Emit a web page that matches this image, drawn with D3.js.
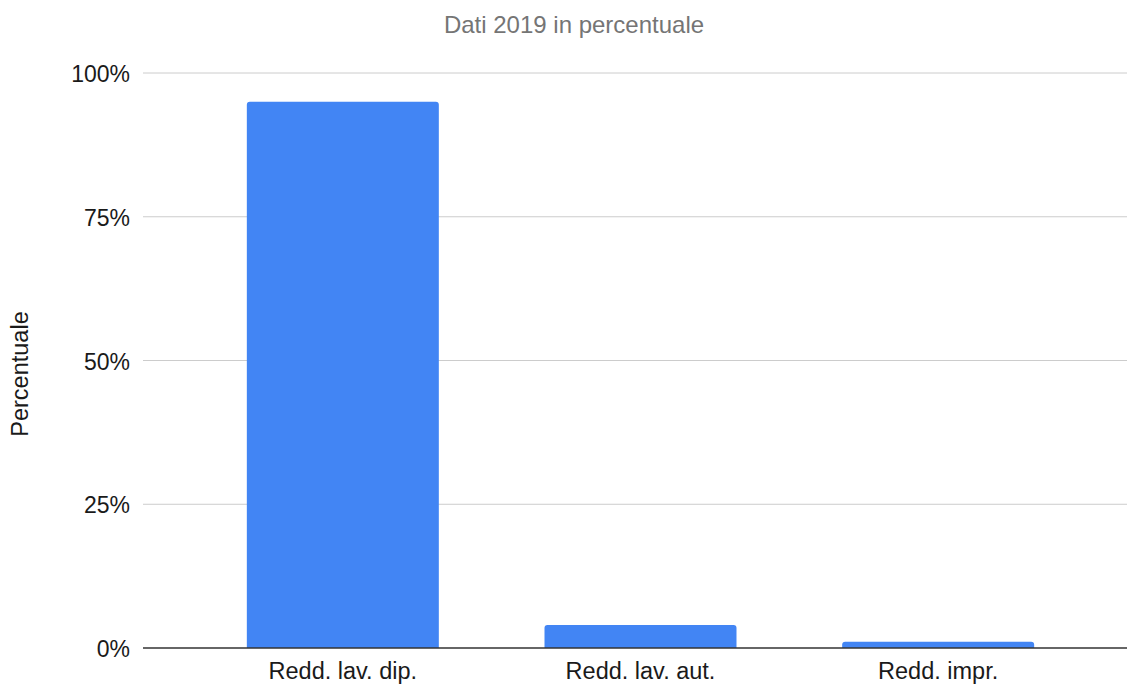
<!DOCTYPE html>
<html><head><meta charset="utf-8">
<script src="https://cdn.jsdelivr.net/npm/d3@7"></script>
<style>body{margin:0;background:#fff;} text{font-family:"Liberation Sans",Arial,sans-serif;}</style>
</head><body>
<svg id="c" width="1127" height="684"></svg>
<script>
const categories = ["Redd. lav. dip.", "Redd. lav. aut.", "Redd. impr."];
const values = [95, 4, 1.1];
const tickValues = [0, 25, 50, 75, 100];
const tickLabels = ["0%", "25%", "50%", "75%", "100%"];
const title = "Dati 2019 in percentuale";
const yTitle = "Percentuale";

(function () {
const svg = d3.select("#c");
const plotLeft = 143, plotRight = 1127, plotTop = 73, plotBottom = 648;

const x = d3.scaleBand().domain(categories).range([194, 1087]).paddingInner(0.355).paddingOuter(0.1775);
const y = d3.scaleLinear().domain([0, 100]).range([plotBottom, plotTop]);

// gridlines
svg.append("g").selectAll("line").data(tickValues.filter(d => d > 0)).join("line")
  .attr("x1", plotLeft).attr("x2", plotRight)
  .attr("y1", d => y(d)).attr("y2", d => y(d))
  .attr("stroke", "#cccccc").attr("stroke-width", 1);

// y tick labels
svg.append("g").selectAll("text").data(tickValues).join("text")
  .attr("x", 130).attr("y", d => y(d) + 9)
  .attr("text-anchor", "end").attr("font-size", 23).attr("fill", "#1a1a1a")
  .text((d, i) => tickLabels[i]);

// bars with rounded top corners
const r = 3;
svg.append("g").selectAll("path").data(values).join("path")
  .attr("fill", "#4285f4")
  .attr("d", (d, i) => {
    const x0 = x(categories[i]), w = x.bandwidth(), y0 = y(d), yb = y(0);
    const rr = Math.min(r, (yb - y0));
    return `M${x0},${yb}V${y0 + rr}Q${x0},${y0} ${x0 + rr},${y0}H${x0 + w - rr}Q${x0 + w},${y0} ${x0 + w},${y0 + rr}V${yb}Z`;
  });

// baseline
svg.append("line").attr("x1", plotLeft).attr("x2", plotRight)
  .attr("y1", y(0)).attr("y2", y(0))
  .attr("stroke", "#333333").attr("stroke-width", 1.5);

// category labels
svg.append("g").selectAll("text").data(categories).join("text")
  .attr("x", d => x(d) + x.bandwidth() / 2).attr("y", 679)
  .attr("text-anchor", "middle").attr("font-size", 23.5).attr("fill", "#1a1a1a")
  .text(d => d);

// title
svg.append("text").attr("x", 574).attr("y", 32.5).attr("text-anchor", "middle")
  .attr("font-size", 24).attr("fill", "#757575").text(title);

// y title
svg.append("text").attr("transform", "translate(27.5,374) rotate(-90)")
  .attr("text-anchor", "middle").attr("font-size", 23.5).attr("fill", "#1a1a1a").text(yTitle);
})();
</script>
</body></html>
